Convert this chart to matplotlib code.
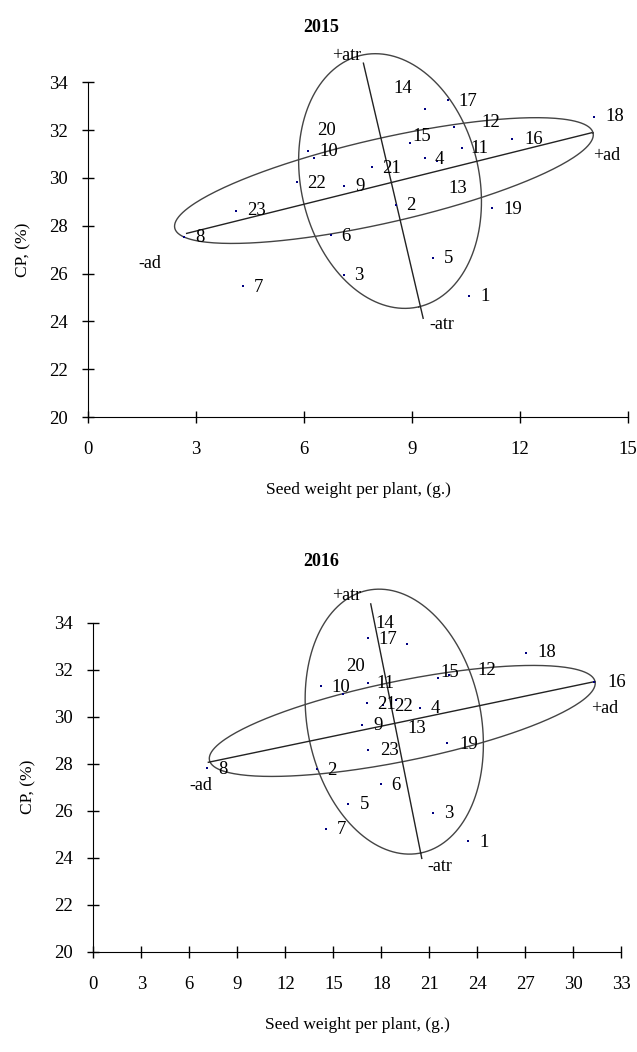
import matplotlib
matplotlib.use("Agg")
import matplotlib.pyplot as plt
import numpy as np

plt.rcParams['font.family'] = ['Liberation Serif', 'DejaVu Serif']

# genotype numbers
genotypes = ['1', '2', '3', '4', '5', '6', '7', '8', '9', '10', '11', '12',
             '13', '14', '15', '16', '17', '18', '19', '20', '21', '22', '23']

# 2015: seed weight per plant (g) and CP (%)
sw_2015 = [10.59, 8.55, 7.10, 9.35, 9.57, 6.74, 4.30, 2.67, 7.10, 6.12, 10.40, 10.16,
           9.69, 9.35, 8.95, 11.77, 10.00, 14.05, 11.21, 6.29, 7.88, 5.80, 4.10]
cp_2015 = [25.07, 28.87, 25.95, 30.82, 26.66, 27.61, 25.46, 27.54, 29.67, 31.14, 31.26, 32.13,
           30.71, 32.88, 31.47, 31.64, 33.25, 32.56, 28.73, 30.82, 30.44, 29.82, 28.63]

# 2016
sw_2016 = [23.44, 14.00, 21.25, 20.42, 15.94, 18.00, 14.52, 7.09, 16.79, 14.21, 17.19, 22.25,
           18.90, 19.59, 21.53, 31.31, 17.15, 27.02, 22.13, 15.63, 17.09, 18.13, 17.17]
cp_2016 = [24.71, 27.77, 25.91, 30.38, 26.29, 27.12, 25.23, 27.80, 29.66, 31.30, 31.45, 31.77,
           30.70, 33.09, 31.63, 31.49, 33.34, 32.72, 28.87, 30.95, 30.57, 30.48, 28.57]

# label shifts in pixels (right, down) as placed in the original
label_shift = [(16, 1), (15, 1), (15, 1), (15, 1), (16, 1), (15, 1), (16, 1), (16, 1),
               (16, 1), (20, 1), (17, 1), (37, -5), (21, 28), (-22, -21), (12, -6),
               (22, 1), (20, 1), (21, 0), (21, 1), (12, -28), (20, 1), (20, 1), (21, 0)]

# ellipses: centre, end of one semi-axis, end of the other semi-axis
ad_ell_2015 = [(8.22, 29.89), (14.03, 31.88), (7.96, 31.61)]
atr_ell_2015 = [(8.39, 29.87), (9.19, 24.61), (10.80, 30.71)]
ad_line_2015 = [(2.74, 27.68), (13.99, 31.89)]
atr_line_2015 = [(7.65, 34.80), (9.31, 24.13)]
ends_2015 = {'+atr': (7.19, 35.14), '-atr': (9.83, 23.85), '+ad': (14.42, 30.92), '-ad': (1.72, 26.44)}

ad_ell_2016 = [(19.31, 29.82), (31.36, 31.49), (18.81, 31.49)]
atr_ell_2016 = [(18.81, 29.79), (20.46, 24.20), (24.13, 30.52)]
ad_line_2016 = [(7.19, 28.06), (31.31, 31.49)]
atr_line_2016 = [(17.34, 34.80), (20.53, 23.97)]
ends_2016 = {'+atr': (15.84, 35.15), '-atr': (21.67, 23.62), '+ad': (31.94, 30.36), '-ad': (6.71, 27.09)}


def ellipse_pts(ell):
    c, p, q = [np.array(v) for v in ell]
    t = np.linspace(0, 2 * np.pi, 300)
    pts = c[:, None] + (p - c)[:, None] * np.cos(t) + (q - c)[:, None] * np.sin(t)
    return pts[0], pts[1]


def panel(ax, sw, cp, ells, lines, ends, xmax, title, title_y):
    ax.set_xlim(0, xmax)
    ax.set_ylim(20, 34)
    for ell in ells:
        ex, ey = ellipse_pts(ell)
        ax.plot(ex, ey, color='#444444', lw=1, clip_on=False)
    for ln in lines:
        ax.plot([ln[0][0], ln[1][0]], [ln[0][1], ln[1][1]], color='#222222', lw=1, clip_on=False)
    ax.plot(sw, cp, 's', color='#000080', ms=2.0, mew=0, clip_on=False)
    for g, x, y, (dx, dy) in zip(genotypes, sw, cp, label_shift):
        ax.annotate(g, (x, y), xytext=(dx, -dy), textcoords='offset pixels',
                    ha='center', va='center', fontsize=13.5, annotation_clip=False)
    for k, (x, y) in ends.items():
        ax.text(x, y, k, ha='center', va='center', fontsize=13, clip_on=False)
    for s in ['top', 'right']:
        ax.spines[s].set_visible(False)
    ax.set_xticks(np.arange(0, xmax + 1, 3))
    ax.set_yticks(np.arange(20, 35, 2))
    ax.tick_params(direction='inout', length=9, width=1, labelsize=13.5)
    ax.tick_params(axis='x', pad=13)
    ax.tick_params(axis='y', pad=10)
    ax.set_xlabel('Seed weight per plant, (g.)', fontsize=12.5, labelpad=17)
    ax.set_ylabel('CP, (%)', fontsize=12.5, labelpad=13)
    ax.figure.text(321 / 637, title_y, title, ha='center', va='center',
                   fontsize=13, fontweight='bold')


fig = plt.figure(figsize=(6.37, 10.52), dpi=100)
ax1 = fig.add_axes([88 / 637, 1 - 417 / 1052, 540 / 637, 334.7 / 1052])
ax2 = fig.add_axes([93.3 / 637, 1 - 951.7 / 1052, 528 / 637, 329 / 1052])

panel(ax1, sw_2015, cp_2015, [ad_ell_2015, atr_ell_2015], [ad_line_2015, atr_line_2015],
      ends_2015, 15, '2015', 1 - 27 / 1052)
panel(ax2, sw_2016, cp_2016, [ad_ell_2016, atr_ell_2016], [ad_line_2016, atr_line_2016],
      ends_2016, 33, '2016', 1 - 562 / 1052)

fig.savefig('out.png', dpi=100)
